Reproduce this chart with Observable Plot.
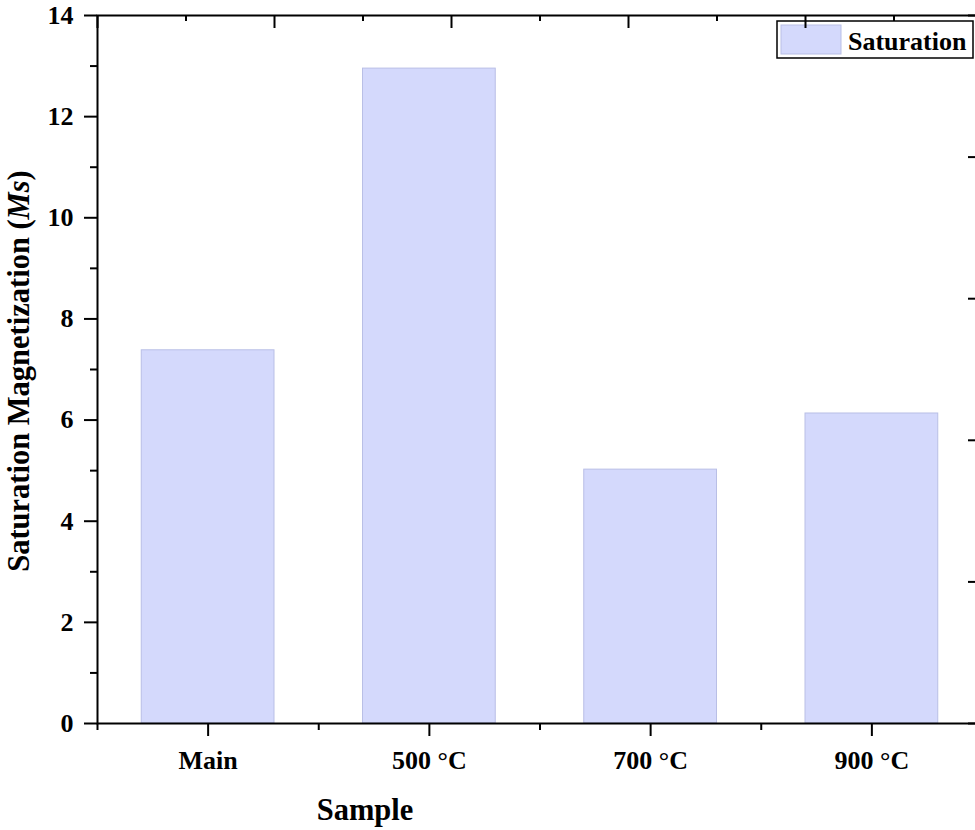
<!DOCTYPE html>
<html>
<head>
<meta charset="utf-8">
<script src="https://cdn.jsdelivr.net/npm/d3@7"></script>
<script src="https://cdn.jsdelivr.net/npm/@observablehq/plot@0.6"></script>
<style>
  body { margin: 0; background: #fff; }
  #chart svg { display: block; }
</style>
</head>
<body>
<div id="chart"></div>
<script>
// Saturation magnetization of the as-made sample and after annealing
const samples = ["Main", "500 °C", "700 °C", "900 °C"];
const saturation = [7.38, 12.95, 5.02, 6.13];

// Left axis ticks (Ms)
const yMajorTicks = [0, 2, 4, 6, 8, 10, 12, 14];
const yMinorTicks = [1, 3, 5, 7, 9, 11, 13];

// Mirror axes on top and right: five major steps, one minor between each
const mirrorSteps = [0, 1, 2, 3, 4, 5];
const mirrorHalfSteps = [0.5, 1.5, 2.5, 3.5, 4.5];

const seriesName = "Saturation";
const xTitle = "Sample";

const barFill = "#d4d9fc";
const barStroke = "#b9bfe6";
const font = "'Liberation Serif', 'Times New Roman', serif";

const n = samples.length;
const yMax = 14;
const toTop = s => s * n / 5;
const toRight = s => s * yMax / 5;

const W = 975, H = 830, mTop = 15, mBottom = 107;
const innerHeight = H - mTop - mBottom;

const chart = Plot.plot({
  width: W,
  height: H,
  marginLeft: 97,
  marginRight: -7,
  marginTop: mTop,
  marginBottom: mBottom,
  style: { fontFamily: font, fontWeight: "bold", fontSize: "26px", color: "#000", background: "#fff" },
  x: { type: "linear", domain: [0, n] },
  y: { domain: [0, yMax] },
  marks: [
    Plot.rectY(samples, {
      x1: (d, i) => i + 0.2,
      x2: (d, i) => i + 0.8,
      y1: 0,
      y2: (d, i) => saturation[i],
      fill: barFill,
      stroke: barStroke,
      strokeWidth: 1
    }),
    Plot.frame({ stroke: "#000", strokeWidth: 2 }),
    // bottom axis: category labels with outward ticks, minor ticks at the boundaries
    Plot.axisX(samples.map((d, i) => i + 0.5), {
      anchor: "bottom", tickSize: 13, tickPadding: 14, strokeWidth: 2,
      tickFormat: v => samples[Math.round(v - 0.5)], label: null
    }),
    Plot.axisX(d3.range(0, n + 1), {
      anchor: "bottom", tickSize: 7, strokeWidth: 2, tickFormat: () => "", label: null
    }),
    // left axis
    Plot.axisY(yMajorTicks, {
      anchor: "left", tickSize: 13, tickPadding: 11, strokeWidth: 2,
      tickFormat: d3.format("d"), label: null
    }),
    Plot.axisY(yMinorTicks, {
      anchor: "left", tickSize: 7, strokeWidth: 2, tickFormat: () => "", label: null
    }),
    // top mirror axis: short inward ticks hanging from the top edge
    Plot.tickX(mirrorSteps.map(toTop), {
      x: d => d, stroke: "#000", strokeWidth: 2, insetBottom: innerHeight - 13
    }),
    Plot.tickX(mirrorHalfSteps.map(toTop), {
      x: d => d, stroke: "#000", strokeWidth: 2, insetBottom: innerHeight - 6
    }),
    // right mirror axis, ticks pointing inward
    Plot.axisY(mirrorSteps.map(toRight), {
      anchor: "right", tickSize: 15, dx: -15, strokeWidth: 2, tickFormat: () => "", label: null
    }),
    Plot.axisY(mirrorHalfSteps.map(toRight), {
      anchor: "right", tickSize: 8, dx: -8, strokeWidth: 2, tickFormat: () => "", label: null
    })
  ]
});

document.getElementById("chart").append(chart);

const svg = d3.select(chart);

// legend box, placed beneath the plot marks so the top ticks run over it
const legend = svg.insert("g", ":first-child").attr("class", "legend");
legend.append("rect")
  .attr("x", 777).attr("y", 21).attr("width", 196).attr("height", 37)
  .attr("fill", "#fff").attr("stroke", "#000").attr("stroke-width", 1.5);
legend.append("rect")
  .attr("x", 781).attr("y", 25).attr("width", 60).attr("height", 29)
  .attr("fill", barFill).attr("stroke", barStroke).attr("stroke-width", 1);
legend.append("text")
  .attr("x", 848).attr("y", 50)
  .attr("text-anchor", "start")
  .attr("font-family", font).attr("font-weight", "bold").attr("font-size", 26)
  .attr("fill", "#000")
  .text(seriesName);

// axis titles
const yLabel = svg.append("text")
  .attr("transform", "translate(29,371) rotate(-90)")
  .attr("text-anchor", "middle")
  .attr("font-family", font).attr("font-weight", "bold").attr("font-size", 30.5)
  .attr("fill", "#000");
yLabel.append("tspan").text("Saturation Magnetization (");
yLabel.append("tspan").attr("font-style", "italic").text("Ms");
yLabel.append("tspan").text(")");

svg.append("text")
  .attr("x", 365).attr("y", 820)
  .attr("text-anchor", "middle")
  .attr("font-family", font).attr("font-weight", "bold").attr("font-size", 30.5)
  .attr("fill", "#000")
  .text(xTitle);
</script>
</body>
</html>
